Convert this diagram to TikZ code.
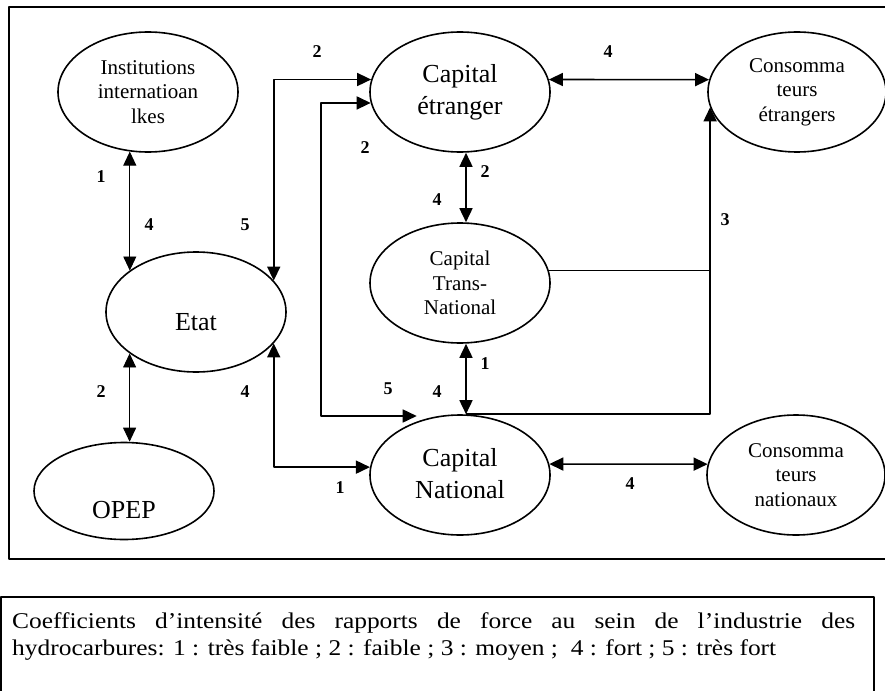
\documentclass[tikz,border=0pt]{standalone}
\usepackage{fontspec}
\setmainfont{Liberation Serif}
\newfontfamily\legfont[FakeStretch=1.13]{Liberation Serif}
\usetikzlibrary{shapes.geometric,arrows.meta}
\begin{document}
\begin{tikzpicture}[x=1pt, y=-1pt, line join=round, >={Triangle[length=14pt,width=13pt]},
	ell/.style={draw, ellipse, line width=1.6pt, minimum width=180pt, minimum height=120pt, inner sep=0pt, align=center},
	petit/.style={font=\fontsize{21}{24.5}\selectfont},
	grand/.style={font=\fontsize{26}{32}\selectfont},
	lien/.style={line width=1.6pt},
	fin/.style={line width=0.9pt},
	num/.style={font=\fontsize{18}{18}\selectfont\bfseries, inner sep=0pt},
	leg/.style={anchor=base west, inner sep=0pt, font=\legfont\fontsize{22.5}{26}\selectfont}]
	\useasboundingbox (0,0) rectangle (885,690);
	\clip (0,0) rectangle (885,690);
	\draw[line width=1.8pt] (9,7) rectangle (900,559);
	\draw[line width=1.8pt] (1,597) rectangle (874,720);
	\node[ell,petit] (inst) at (148,92) {Institutions\\internatioan\\lkes};
	\node[ell] (etat) at (196,312) {};
	\node[grand] (etatT) at (196,322) {Etat};
	\node[ell,minimum height=97pt] (opep) at (124,491) {};
	\node[grand] (opepT) at (124,510) {OPEP};
	\node[ell,grand] (cape) at (460,92) {Capital\\étranger};
	\node[ell,petit,minimum width=178pt] (consE) at (797,92) {Consomma\\teurs\\étrangers};
	\node[ell,petit] (capT) at (460,283) {Capital\\Trans-\\National};
	\node[ell,grand] (capN) at (460,475) {\raisebox{4pt}{Capital}\\\raisebox{4pt}{National}};
	\node[ell,petit,minimum width=178pt] (consN) at (796,475) {Consomma\\teurs\\nationaux};
	\coordinate (k) at (321,416);
	\draw[<->,fin] (inst.253) -- (inst.253 |- etat.148);
	\draw[<->,fin] (etat.212) -- (etat.212 |- opep.north);
	\draw[<->,lien] (etat.22) |- (cape.172);
	\draw[<->,lien] (cape.187) -| (k) -- (capN.129 |- k);
	\draw[<->,lien] (etat.-22) |- (capN.175);
	\draw[<->,lien] ([xshift=6pt]cape.south) -- ([xshift=6pt]capT.north);
	\draw[<->,lien] ([xshift=6pt]capT.south) -- ([xshift=6pt]capN.north);
	\draw[<->,lien] (cape.8) -- (consE.172);
	\draw[<->,lien] (capN.7) -- (consN.173);
	\draw[->,lien] ([xshift=6pt]capN.north) -| (consE.190);
	\draw[lien] (capT.8) -- (capT.8 -| consE.190);
	\foreach \x/\y/\t [count=\i] in {317/52/2, 608/52/4, 101/177/1, 365/148/2, 485/172/2, 437/200/4, 149/225/4, 245/225/5, 725/220/3, 101/392/2, 245/392/4, 388/389/5, 437/392/4, 485/364/1, 340/488/1, 630/484/4}
		\node[num] (c\i) at (\x,\y) {\t};
	\node[leg] (leg1) at (12,628) {\makebox[843pt][s]{Coefficients d’intensité des rapports de force au sein de l’industrie des}};
	\node[leg] (leg2) at (12,655) {hydrocarbures: 1 : très faible ; 2 : faible ; 3 : moyen ;\ \ 4 : fort ; 5 : très fort};
\end{tikzpicture}
\end{document}
